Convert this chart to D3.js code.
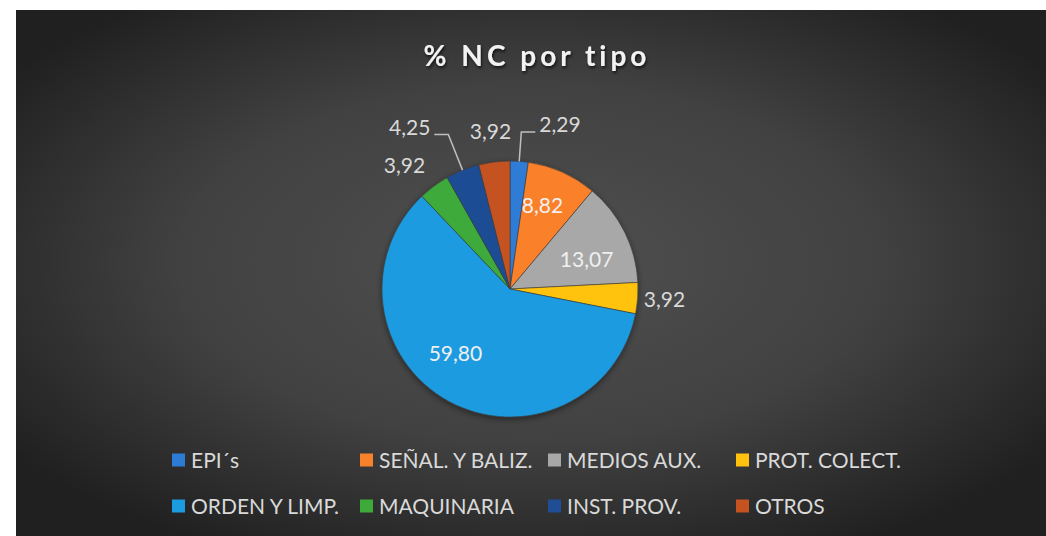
<!DOCTYPE html>
<html>
<head>
<meta charset="utf-8">
<script src="https://d3js.org/d3.v7.min.js"></script>
<style>
  html, body { margin: 0; padding: 0; background: #ffffff; }
  svg text { font-family: Lato, "Open Sans", sans-serif; }
</style>
</head>
<body>
<div id="chart"></div>
<script>
// data
var categories = ["EPI´s", "SEÑAL. Y BALIZ.", "MEDIOS AUX.", "PROT. COLECT.",
                  "ORDEN Y LIMP.", "MAQUINARIA", "INST. PROV.", "OTROS"];
var values = [2.29, 8.82, 13.07, 3.92, 59.80, 3.92, 4.25, 3.92];
var colors = ["#2E7BD6", "#FA812C", "#A8A8A8", "#FFC20E",
              "#1B9BE0", "#3DAA3A", "#1F4E94", "#C55320"];
var title = "% NC por tipo";

// label placement per slice: "in" = inside, "out" = outside, "lead" = leader line
var labelMode  = ["lead-r", "in", "in", "out", "in", "out", "lead-l", "out"];
var labelRad   = [1.23, 0.70, 0.64, 1.21, 0.66, 1.27, 1.30, 1.24];
var labelShift = [0, -0.05, 0.10, 0, 0.20, -0.07, 0, 0];

var W = 1046, H = 536;
var bg = {x: 16, y: 10};
var cx = 510, cy = 289, R = 128;

var svg = d3.select("#chart")
  .append("svg")
    .attr("width", W)
    .attr("height", H);

var defs = svg.append("defs");
var grad = defs.append("radialGradient")
    .attr("id", "bggrad")
    .attr("cx", "50%").attr("cy", "48%").attr("r", "62%");
grad.append("stop").attr("offset", "0%").attr("stop-color", "#505050");
grad.append("stop").attr("offset", "55%").attr("stop-color", "#414141");
grad.append("stop").attr("offset", "100%").attr("stop-color", "#202020");

var shadow = defs.append("filter").attr("id", "pieshadow")
    .attr("x", "-20%").attr("y", "-20%").attr("width", "140%").attr("height", "140%");
shadow.append("feDropShadow")
    .attr("dx", 0).attr("dy", 2).attr("stdDeviation", 3)
    .attr("flood-color", "#000").attr("flood-opacity", 0.45);

var txtShadow = defs.append("filter").attr("id", "txtshadow");
txtShadow.append("feDropShadow")
    .attr("dx", 1).attr("dy", 2).attr("stdDeviation", 1.5)
    .attr("flood-color", "#000").attr("flood-opacity", 0.7);

// background
svg.append("rect")
    .attr("x", bg.x).attr("y", bg.y)
    .attr("width", W - bg.x).attr("height", H - bg.y)
    .attr("fill", "url(#bggrad)");

// title
svg.append("text")
    .attr("x", 537)
    .attr("y", 66)
    .attr("text-anchor", "middle")
    .attr("fill", "#f2f2f2")
    .style("font-size", "28px")
    .style("font-weight", "bold")
    .style("letter-spacing", "4px")
    .attr("filter", "url(#txtshadow)")
    .text(title);

// pie
var pie = d3.pie().sort(null).value(function(d) { return d; });
var arcs = pie(values);
var arc = d3.arc().innerRadius(0).outerRadius(R);

var g = svg.append("g")
    .attr("transform", "translate(" + cx + "," + cy + ")");

g.append("g")
    .attr("filter", "url(#pieshadow)")
  .selectAll("path")
  .data(arcs)
  .enter()
  .append("path")
    .attr("d", arc)
    .attr("fill", function(d, i) { return colors[i]; })
    .attr("stroke", "#3a3a3a")
    .attr("stroke-width", 0.6);

// labels
var fmt = function(v) { return d3.format(".2f")(v).replace(".", ","); };
function polar(a, r) { return [Math.sin(a) * r, -Math.cos(a) * r]; }

arcs.forEach(function(d, i) {
  var mid = (d.startAngle + d.endAngle) / 2;
  var mode = labelMode[i];
  var p = polar(mid + labelShift[i], R * labelRad[i]);
  if (mode === "in" || mode === "out") {
    g.append("text")
      .attr("x", p[0])
      .attr("y", p[1])
      .attr("text-anchor", "middle")
      .attr("dy", "0.35em")
      .attr("fill", mode === "in" ? "#f0f0f0" : "#d9d9d9")
      .style("font-size", "21px")
      .text(fmt(values[i]));
  } else {
    var a0 = polar(mid, R);
    var dir = mode === "lead-r" ? 1 : -1;
    var p2 = [p[0] + dir * 14, p[1]];
    g.append("polyline")
      .attr("points", [a0, p, p2].map(function(q) { return q.join(","); }).join(" "))
      .attr("fill", "none")
      .attr("stroke", "#bfbfbf")
      .attr("stroke-width", 1.5);
    g.append("text")
      .attr("x", p2[0] + dir * 4)
      .attr("y", p2[1] - 7)
      .attr("text-anchor", dir > 0 ? "start" : "end")
      .attr("dy", "0.35em")
      .attr("fill", "#d9d9d9")
      .style("font-size", "21px")
      .text(fmt(values[i]));
  }
});

// legend
var legCols = 4, colW = 188, legX = 172, legY = 460, rowH = 46;
var legend = svg.append("g");
var items = legend.selectAll("g.item")
  .data(categories)
  .enter()
  .append("g")
    .attr("class", "item")
    .attr("transform", function(d, i) {
      return "translate(" + (legX + (i % legCols) * colW) + "," + (legY + Math.floor(i / legCols) * rowH) + ")";
    });

items.append("rect")
    .attr("x", 0).attr("y", -6.5)
    .attr("width", 13).attr("height", 13)
    .attr("fill", function(d, i) { return colors[i]; });

items.append("text")
    .attr("x", 19)
    .attr("y", 0)
    .attr("dy", "0.36em")
    .attr("fill", "#d9d9d9")
    .style("font-size", "21px")
    .text(function(d) { return d; });
</script>
</body>
</html>
